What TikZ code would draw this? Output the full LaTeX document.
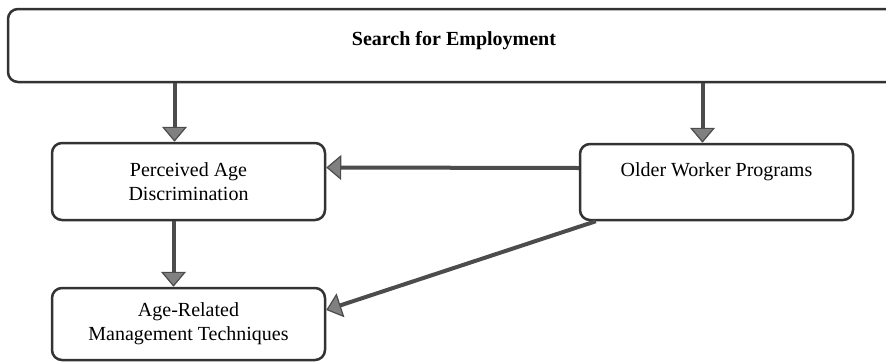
\documentclass[tikz,border=0pt]{standalone}
\usepackage{fontspec}
\setmainfont{Liberation Serif}
\usetikzlibrary{arrows.meta}
\tikzset{
  box/.style={draw=black!80, line width=2.5pt, rounded corners=10pt, fill=white,
    align=center, minimum width=273pt, inner sep=0pt,
    font=\fontsize{20}{24}\selectfont},
  link/.style={draw=black!70, line width=4pt,
    -{Triangle[width=25pt,length=15pt,line width=1.2pt,fill=black!50]}}
}
\begin{document}
\begin{tikzpicture}[x=1pt,y=-1pt]
				\useasboundingbox (0,0) rectangle (886,362);
				\clip (0,0) rectangle (886,362);
				% Hộp chính
				\node[box, minimum width=946pt, minimum height=73pt, text depth=14pt,
				  font=\fontsize{20}{24}\selectfont\bfseries] (search) at (481,45.5) {Search for Employment\hspace*{54pt}};
				% Các hộp con
				\node[box, minimum height=77pt] (perc) at (188.5,181.5) {Perceived Age\\Discrimination};
				\node[box, minimum height=76pt] (older) at (716.5,182) {Older Worker Programs\\\mbox{}};
				\node[box, minimum height=72pt] (age) at (188.5,324) {Age-Related\\Management Techniques};
				
				% Các mũi tên
				\draw[link] ([xshift=-14pt]perc.north |- search.south) -- ([xshift=-14pt]perc.north);
				\draw[link] ([xshift=-14pt]older.north |- search.south) -- ([xshift=-14pt]older.north);
				\draw[link] ([xshift=-15pt]perc.south) -- ([xshift=-15pt]age.north);
				\draw[link] ([yshift=14pt]older.west) -- ([yshift=14pt]perc.east);
				\draw[link] ([xshift=17pt]older.south west) -- ([yshift=14pt]age.east);
			\end{tikzpicture}
\end{document}
